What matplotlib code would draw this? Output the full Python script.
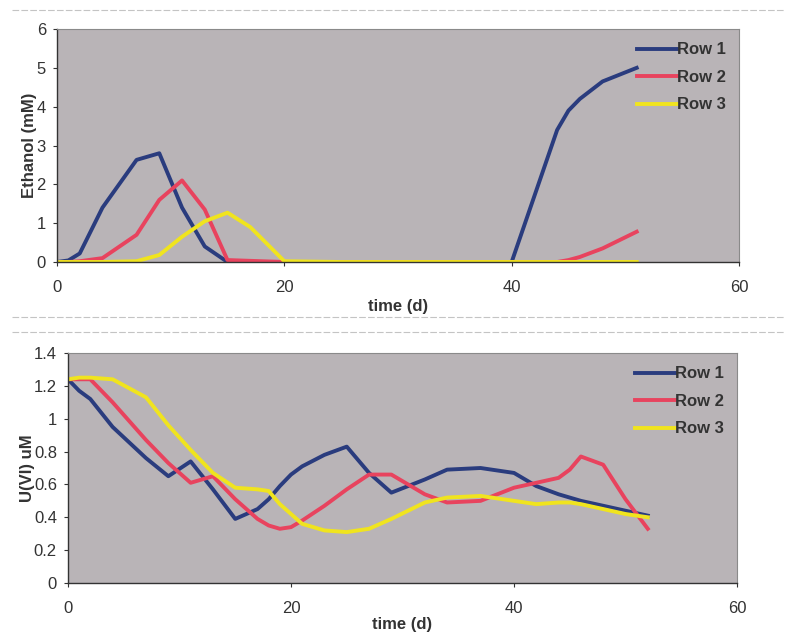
import numpy as np
import matplotlib
matplotlib.use("Agg")
import matplotlib.pyplot as plt
from matplotlib.lines import Line2D
from matplotlib.ticker import FuncFormatter

plt.rcParams['font.family'] = ['Liberation Sans', 'DejaVu Sans']

# Top panel: ethanol
t_eth = [0, 1, 2, 4, 7, 9, 11, 13, 15, 17, 20, 25, 30, 35, 40, 44, 45, 46, 48, 51]
eth_row1 = [0, 0.04, 0.22, 1.4, 2.63, 2.8, 1.4, 0.4, 0, 0, 0, 0, 0, 0, 0, 3.4, 3.9, 4.2, 4.65, 5.0]
eth_row2 = [0, 0, 0.02, 0.1, 0.7, 1.6, 2.1, 1.35, 0.05, 0.03, 0, 0, 0, 0, 0, 0, 0.05, 0.13, 0.35, 0.78]
eth_row3 = [0, 0, 0, 0, 0.02, 0.18, 0.65, 1.05, 1.27, 0.9, 0.02, 0, 0, 0, 0, 0, 0, 0, 0, 0]

# Bottom panel: U(VI)
t_u = [0, 1, 2, 4, 7, 9, 11, 13, 15, 17, 18, 19, 20, 21, 23, 25, 27, 29,
       32, 34, 37, 40, 42, 44, 45, 46, 48, 50, 52]
u_row1 = [1.24, 1.17, 1.12, 0.95, 0.76, 0.65, 0.74, 0.57, 0.39, 0.45, 0.51, 0.59, 0.66, 0.71,
          0.78, 0.83, 0.67, 0.55, 0.63, 0.69, 0.70, 0.67, 0.59, 0.54, 0.52, 0.50, 0.47, 0.44, 0.41]
u_row2 = [1.24, 1.24, 1.24, 1.10, 0.87, 0.73, 0.61, 0.65, 0.51, 0.39, 0.35, 0.33, 0.34, 0.38,
          0.47, 0.57, 0.66, 0.66, 0.54, 0.49, 0.50, 0.58, 0.61, 0.64, 0.69, 0.77, 0.72, 0.51, 0.33]
u_row3 = [1.24, 1.25, 1.25, 1.24, 1.13, 0.96, 0.81, 0.67, 0.58, 0.57, 0.56, 0.48, 0.42, 0.36,
          0.32, 0.31, 0.33, 0.39, 0.49, 0.52, 0.53, 0.50, 0.48, 0.49, 0.49, 0.48, 0.45, 0.42, 0.40]

labels = ['Row 1', 'Row 2', 'Row 3']
colors = ['#2a3c7e', '#e8435e', '#f0e41e']
bg = '#b9b4b7'
txt_c = '#333333'

fig = plt.figure(figsize=(7.85, 6.37), dpi=100)
ax1 = fig.add_axes([57 / 785, 1 - 262 / 637, 682 / 785, 233 / 637])
ax2 = fig.add_axes([68 / 785, 1 - 583 / 637, 669 / 785, 230 / 637])


def style(ax):
    ax.set_facecolor(bg)
    for s in ['top', 'right']:
        ax.spines[s].set_color('#8a8a8a')
        ax.spines[s].set_linewidth(0.8)
    for s in ['left', 'bottom']:
        ax.spines[s].set_color(txt_c)
        ax.spines[s].set_linewidth(1.0)
    ax.tick_params(direction='out', length=3, labelsize=12, colors=txt_c)
    ax.tick_params(axis='x', pad=10)
    ax.tick_params(axis='y', pad=5)
    ax.set_xlim(0, 60)
    ax.set_xticks([0, 20, 40, 60])
    ax.set_xlabel('time (d)', fontsize=12, fontweight='bold', color=txt_c)
    leg = ax.legend(loc='upper right', frameon=False, fontsize=12, handlelength=2.4,
                    handletextpad=0.0, labelspacing=0.75, borderaxespad=0.4)
    for txt in leg.get_texts():
        txt.set_fontweight('bold')
        txt.set_color(txt_c)


for ys, lab, c in zip([eth_row1, eth_row2, eth_row3], labels, colors):
    ax1.plot(t_eth, ys, color=c, lw=2.8, label=lab)
ax1.set_ylim(0, 6)
ax1.set_yticks(range(0, 7))
ax1.set_ylabel('Ethanol (mM)', fontsize=12, fontweight='bold', color=txt_c, labelpad=0)
style(ax1)
ax1.xaxis.labelpad = 3

for ys, lab, c in zip([u_row1, u_row2, u_row3], labels, colors):
    ax2.plot(t_u, ys, color=c, lw=2.8, label=lab)
ax2.set_ylim(0, 1.4)
ax2.set_yticks(np.arange(0, 1.41, 0.2))
ax2.yaxis.set_major_formatter(FuncFormatter(lambda v, p: f'{v:g}'))
ax2.set_ylabel('U(VI) uM', fontsize=12, fontweight='bold', color=txt_c, labelpad=-1)
style(ax2)
ax2.xaxis.labelpad = 1

# faint scan separators between and around the panels
for y in [10, 317, 332]:
    fig.add_artist(Line2D([0.015, 1.0], [1 - y / 637, 1 - y / 637], color='#c4c4c4',
                          lw=0.8, ls=(0, (6, 2))))

fig.savefig('out.png', dpi=100)
